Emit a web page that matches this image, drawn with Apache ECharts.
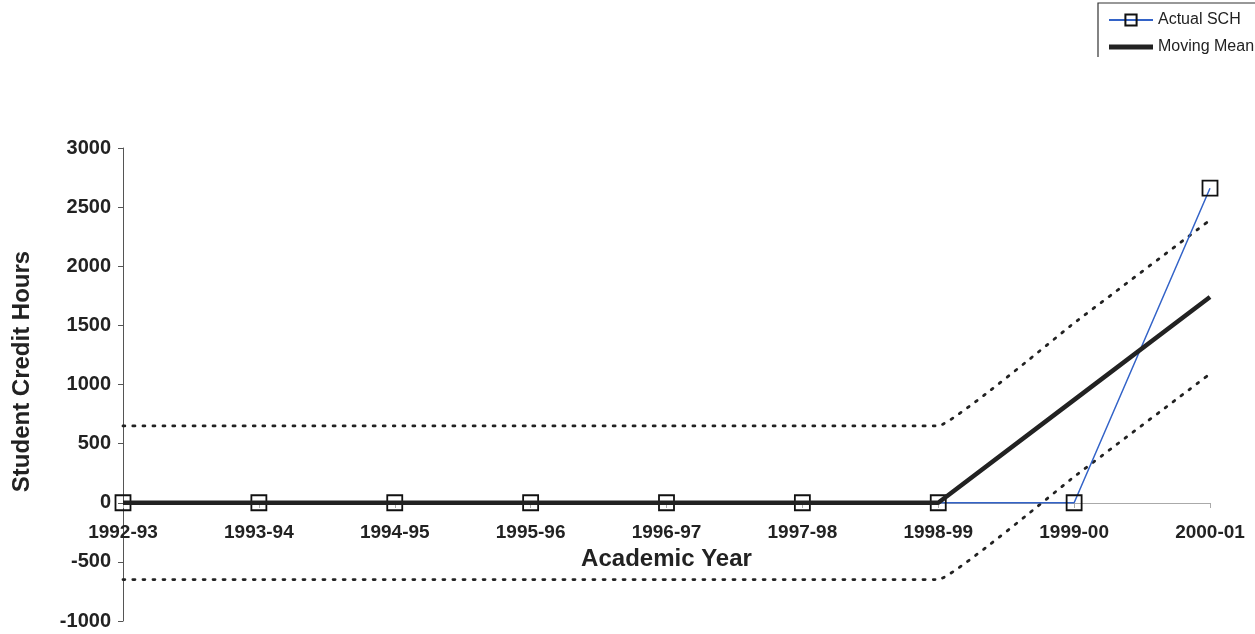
<!DOCTYPE html>
<html>
<head>
<meta charset="utf-8">
<script src="https://cdn.jsdelivr.net/npm/echarts@6/dist/echarts.min.js"></script>
<style>
html,body{margin:0;padding:0;background:#fff;}
#chart{width:1255px;height:634px;}
</style>
</head>
<body>
<div id="chart"></div>
<script>
const years = ['1992-93','1993-94','1994-95','1995-96','1996-97','1997-98','1998-99','1999-00','2000-01'];
const actualSCH = [0,0,0,0,0,0,0,0,2660];
const movingMean = [0,0,0,0,0,0,0,870,1740];
const upperBand = [650,650,650,650,650,650,650,1520,2390];
const lowerBand = [-650,-650,-650,-650,-650,-650,-650,220,1090];
const yTicks = {min:-1000, max:3000, interval:500};

const FONT = '"Liberation Sans", Arial, sans-serif';
const chart = echarts.init(document.getElementById('chart'));
chart.setOption({
  animation:false,
  backgroundColor:'#fff',
  grid:{left:123,right:45,top:148,bottom:13,containLabel:false,outerBoundsMode:'none'},
  legend:{
    orient:'vertical', left:1103, top:7, itemGap:11,
    itemWidth:44, itemHeight:14,
    textStyle:{fontFamily:FONT,fontSize:16,color:'#222'},
    data:[
      {name:'Actual SCH'},
      {name:'Moving Mean', icon:'path://M0,0 H44 V5 H0 Z', itemStyle:{color:'#222'}}
    ]
  },
  graphic:[{
    type:'polyline', silent:true,
    shape:{points:[[1098,57],[1098,3],[1255,3]]},
    style:{stroke:'#333',lineWidth:1.2,fill:null}
  }],
  xAxis:{
    type:'category', data:years, boundaryGap:false,
    offset:-118,
    name:'Academic Year', nameLocation:'middle', nameGap:39,
    nameTextStyle:{fontFamily:FONT,fontSize:24,fontWeight:'bold',color:'#222'},
    axisLine:{onZero:false,lineStyle:{color:'#aaa',width:1}},
    axisTick:{show:true,length:5,alignWithLabel:true,lineStyle:{color:'#aaa'}},
    axisLabel:{fontFamily:FONT,fontSize:19,fontWeight:'bold',color:'#222',margin:20}
  },
  yAxis:{
    type:'value', min:yTicks.min, max:yTicks.max, interval:yTicks.interval,
    name:'Student Credit Hours', nameLocation:'middle', nameGap:89,
    nameTextStyle:{fontFamily:FONT,fontSize:24,fontWeight:'bold',color:'#222',padding:[0,0,0,26]},
    axisLine:{show:true,lineStyle:{color:'#555',width:1}},
    axisTick:{show:true,length:5,lineStyle:{color:'#555'}},
    axisLabel:{fontFamily:FONT,fontSize:20,fontWeight:'bold',color:'#222',margin:12,
               formatter:function(v){return String(v);}},
    splitLine:{show:false}
  },
  series:[
    {name:'Upper', type:'line', data:upperBand, symbol:'none', z:1, smooth:0.08,
     lineStyle:{color:'#222',width:2.8,type:[2,8],cap:'round'}},
    {name:'Lower', type:'line', data:lowerBand, symbol:'none', z:1, smooth:0.08,
     lineStyle:{color:'#222',width:2.8,type:[2,8],cap:'round'}},
    {name:'Actual SCH', type:'line', data:actualSCH, z:2,
     symbol:'rect', symbolSize:15,
     itemStyle:{color:'rgba(255,255,255,0)',borderColor:'#111',borderWidth:1.8},
     lineStyle:{color:'#3363c8',width:1.5}},
    {name:'Moving Mean', type:'line', data:movingMean, z:3, symbol:'none',
     itemStyle:{color:'#222'},
     lineStyle:{color:'#222',width:4.5}}
  ]
});
</script>
</body>
</html>
